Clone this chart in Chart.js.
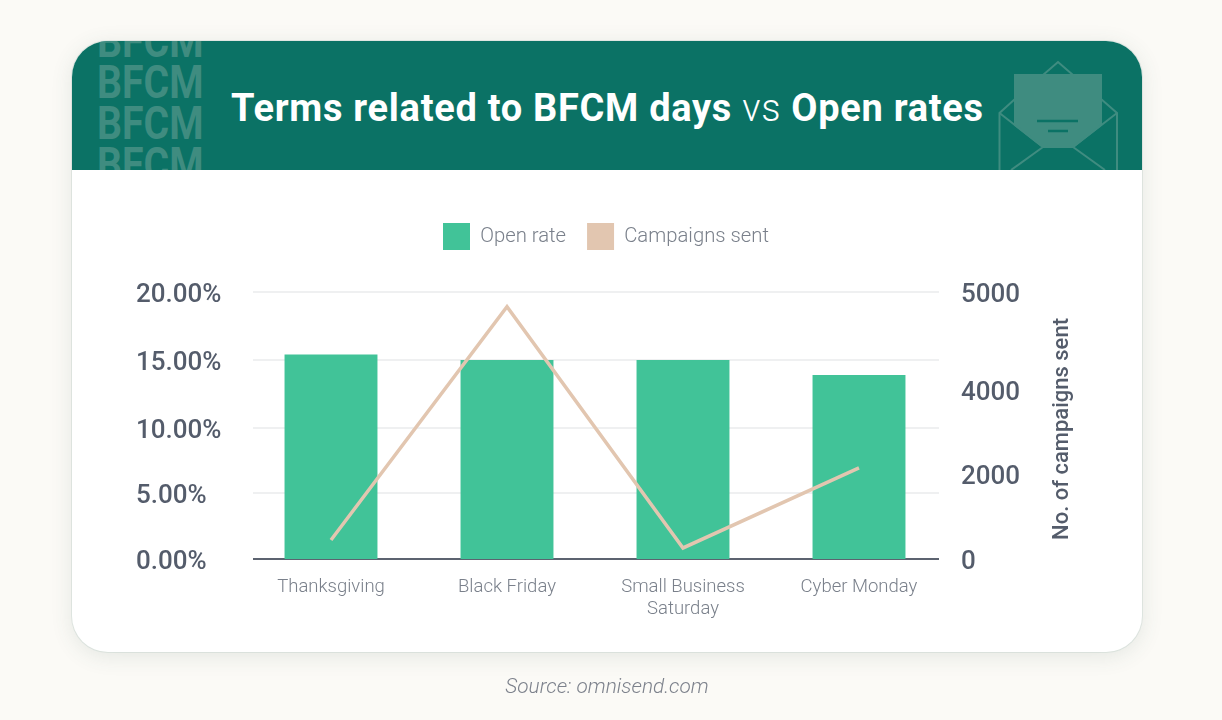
<!DOCTYPE html>
<html>
<head>
<meta charset="utf-8">
<title>Terms related to BFCM days vs Open rates</title>
<script src="https://cdn.jsdelivr.net/npm/chart.js@4/dist/chart.umd.js"></script>
<style>
  html, body { margin: 0; padding: 0; background: #fbfaf6; }
  body { width: 1222px; height: 720px; position: relative; overflow: hidden; font-family: Roboto, sans-serif; }
  #card { position: absolute; left: 72px; top: 41px; width: 1070px; height: 611px; background: #fff; border-radius: 36px;
    box-shadow: 0 0 0 1px rgba(90, 140, 130, .12), 0 4px 22px rgba(60, 90, 85, .12); overflow: hidden; }
  #head { position: absolute; left: 0; top: 0; width: 1070px; height: 129px; background: #0b7265; overflow: hidden; }
  .bfcm { position: absolute; left: 25px; font: bold 46px/41px Roboto, sans-serif; color: #3f8c80; transform: scaleX(.852); transform-origin: left top; }
  #title { position: absolute; left: 159px; top: 44px; white-space: nowrap; color: #fff; font: 700 38px/46px Roboto, sans-serif; letter-spacing: .7px; }
  #title span { font-weight: 300; }
  #env { position: absolute; left: 0; top: 0; }
  #chart { position: absolute; left: 0; top: 0; }
  #source { position: absolute; left: 0; width: 1214px; top: 674px; text-align: center; font: italic 300 20.8px/24px Roboto, sans-serif; color: #7d828c; }
</style>
</head>
<body>
<div id="card">
  <div id="head">
    <div class="bfcm" style="top:-20px">BFCM<br>BFCM<br>BFCM<br>BFCM</div>
    <svg id="env" width="1070" height="129" viewBox="72 41 1070 129" fill="none" stroke="#3f8c80" stroke-width="2">
      <path d="M999.5 170V113L1015 99M1043 75L1058 62L1073 75M1101 99L1117 113V170" />
      <path d="M999.5 113L1043 147H1073L1117 113M1043 147L1011 170M1073 147L1105 170" />
      <path d="M1015 75H1101V125L1073 147H1043L1015 125Z" fill="#3f8c80" />
      <path d="M1037 121H1078M1048 131H1068" stroke="#0b7265" stroke-width="2.5" />
    </svg>
    <div id="title">Terms related to BFCM days <span>vs</span> Open rates</div>
  </div>
</div>
<canvas id="chart" width="1222" height="720"></canvas>
<div id="source">Source: omnisend.com</div>
<script>
const categories = [['Thanksgiving'], ['Black Friday'], ['Small Business', 'Saturday'], ['Cyber Monday']];
const openRates = [15.4, 15, 15, 13.9];
const campaignsSent = [447, 4850, 260, 2145];
const openRateTicks = [0, 5, 10, 15, 20];
const campaignTicks = [0, 2000, 4000, 5000];
const rightAxisTitle = 'No. of campaigns sent';

// the printed axes are not evenly spaced, so each tick gets its own place on the axis
const openRatePlaces = [0, 66 / 267, 131 / 267, 199 / 267, 1];
const campaignPlaces = [0, 85 / 267, 169 / 267, 1];

class SteppedScale extends Chart.LinearScale {
  static id = 'stepped';
  static defaults = Chart.LinearScale.defaults;
  stepData() {
    return this.id === 'y' ? [openRateTicks, openRatePlaces] : [campaignTicks, campaignPlaces];
  }
  getPixelForValue(value) {
    const [vals, places] = this.stepData();
    let i = 0;
    while (i < vals.length - 2 && value > vals[i + 1]) i++;
    const f = (value - vals[i]) / (vals[i + 1] - vals[i]);
    return this.getPixelForDecimal(places[i] + f * (places[i + 1] - places[i]));
  }
  getValueForPixel(pixel) {
    const [vals, places] = this.stepData();
    const d = this.getDecimalForPixel(pixel);
    let i = 0;
    while (i < places.length - 2 && d > places[i + 1]) i++;
    const f = (d - places[i]) / (places[i + 1] - places[i]);
    return vals[i] + f * (vals[i + 1] - vals[i]);
  }
  // labels sit a little high against their grid lines otherwise
  _computeLabelItems(area) {
    const items = super._computeLabelItems(area);
    items.forEach(item => { item.options.translation[1] += 3; });
    return items;
  }
}
Chart.register(SteppedScale);

const tickColor = '#545c6b';
const thinColor = '#7a808b';

const layoutHelpers = {
  id: 'layoutHelpers',
  beforeInit(chart) {
    // extra room between legend and plot
    const fit = chart.legend.fit;
    chart.legend.fit = function () {
      fit.call(this);
      this.height += 32;
    };
  },
  beforeDatasetsDraw(chart) {
    // grid stops short of the plot ends in the reference
    const { ctx, scales } = chart;
    ctx.save();
    scales.y.ticks.forEach(t => {
      const y = Math.round(scales.y.getPixelForValue(t.value));
      ctx.beginPath();
      ctx.moveTo(253, y);
      ctx.lineTo(939, y);
      ctx.lineWidth = 2;
      ctx.strokeStyle = t.value === 0 ? '#5c6370' : '#eff0f1';
      ctx.stroke();
    });
    ctx.restore();
  },
  afterDraw(chart) {
    const { ctx } = chart;
    ctx.save();
    ctx.translate(1062, 429);
    ctx.rotate(-Math.PI / 2);
    ctx.font = '500 22px Roboto';
    ctx.fillStyle = tickColor;
    ctx.textAlign = 'center';
    ctx.textBaseline = 'middle';
    ctx.fillText(rightAxisTitle, 0, 0);
    ctx.restore();
  }
};

new Chart(document.getElementById('chart').getContext('2d'), {
  type: 'bar',
  data: {
    labels: categories,
    datasets: [{
      label: 'Open rate',
      data: openRates,
      backgroundColor: '#41c398',
      yAxisID: 'y',
      order: 2,
      barPercentage: 0.528,
      categoryPercentage: 1
    }, {
      type: 'line',
      label: 'Campaigns sent',
      data: campaignsSent,
      backgroundColor: '#e2c6b0',
      borderColor: '#e2c6b0',
      borderWidth: 3.5,
      pointRadius: 0,
      tension: 0,
      yAxisID: 'y1',
      order: 1
    }]
  },
  options: {
    responsive: false,
    devicePixelRatio: 1,
    animation: false,
    layout: { padding: { left: 136, right: 146, top: 202, bottom: 91 } },
    plugins: {
      tooltip: { enabled: false },
      legend: {
        position: 'top',
        labels: {
          boxWidth: 27,
          boxHeight: 27,
          padding: 21,
          color: thinColor,
          font: { family: 'Roboto', size: 20.3, weight: 300 },
          generateLabels(chart) {
            return chart.data.datasets.map((d, i) => ({
              text: d.label,
              fillStyle: d.backgroundColor,
              strokeStyle: d.backgroundColor,
              lineWidth: 0,
              fontColor: thinColor,
              datasetIndex: i
            }));
          }
        }
      }
    },
    scales: {
      x: {
        grid: { display: false },
        border: { display: false },
        ticks: {
          padding: 9,
          maxRotation: 0,
          autoSkip: false,
          color: thinColor,
          font: { family: 'Roboto', size: 18.5, weight: 300 }
        },
        afterFit(scale) { scale.height = 70; }
      },
      y: {
        type: 'stepped',
        position: 'left',
        min: 0,
        max: 20,
        grid: { display: false },
        border: { display: false },
        afterBuildTicks(scale) { scale.ticks = openRateTicks.map(v => ({ value: v })); },
        afterFit(scale) { scale.width = 107; },
        ticks: {
          crossAlign: 'far',
          autoSkip: false,
          color: tickColor,
          font: { family: 'Roboto', size: 26, weight: 500 },
          callback: v => v.toFixed(2) + '%'
        }
      },
      y1: {
        type: 'stepped',
        position: 'right',
        min: 0,
        max: 5000,
        grid: { display: false },
        border: { display: false },
        afterBuildTicks(scale) { scale.ticks = campaignTicks.map(v => ({ value: v })); },
        afterFit(scale) { scale.width = 129; },
        ticks: {
          padding: 6,
          autoSkip: false,
          color: tickColor,
          font: { family: 'Roboto', size: 26, weight: 500 },
          callback: v => String(v)
        }
      }
    }
  },
  plugins: [layoutHelpers]
});
</script>
</body>
</html>
